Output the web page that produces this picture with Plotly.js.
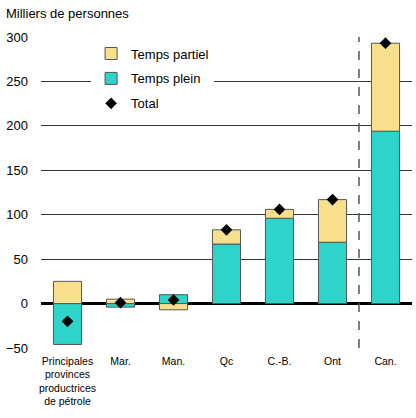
<!DOCTYPE html>
<html>
<head>
<meta charset="utf-8">
<script src="https://cdn.plot.ly/plotly-3.0.1.min.js"></script>
<style>
  body { margin: 0; background: #fff; }
  #chart { width: 416px; height: 418px; }
</style>
</head>
<body>
<div id="chart"></div>
<script>
const regions = [
  "Principales<br>provinces<br>productrices<br>de pétrole",
  "Mar.", "Man.", "Qc", "C.-B.", "Ont", "Can."
];
const tempsPlein = [-46, -4, 10, 67, 96, 69, 194];
const tempsPartiel = [25, 5, -7, 16, 10, 48, 99];
const total = [-20, 1, 4, 83, 106, 117, 293];
const yTicks = [-50, 0, 50, 100, 150, 200, 250, 300];

const font = "Liberation Sans, Arial, sans-serif";
const barLine = { color: "#555", width: 1 };

const traces = [
  {
    type: "bar", name: "Temps plein", x: regions, y: tempsPlein,
    marker: { color: "#2ed3c9", line: barLine },
    legendrank: 2, legendgroup: "b"
  },
  {
    type: "bar", name: "Temps partiel", x: regions, y: tempsPartiel,
    marker: { color: "#f8df8e", line: barLine },
    legendrank: 1, legendgroup: "a"
  },
  {
    type: "scatter", mode: "markers", name: "Total", x: regions, y: total,
    marker: { symbol: "diamond", size: 9, color: "#000" },
    legendrank: 3, legendgroup: "c"
  }
];

const layout = {
  width: 416, height: 418,
  margin: { l: 41, r: 4, t: 37, b: 70 },
  paper_bgcolor: "#fff", plot_bgcolor: "#fff",
  font: { family: font, size: 13, color: "#000" },
  barmode: "relative",
  bargap: 0.47,
  showlegend: true,
  legend: {
    x: 0.135, y: 0.995, xanchor: "left", yanchor: "top",
    bgcolor: "#fff", traceorder: "grouped", tracegroupgap: 5,
    font: { family: font, size: 13 }, itemwidth: 30
  },
  xaxis: {
    type: "category", showgrid: false, ticks: "", showline: false,
    tickfont: { family: font, size: 10.5 }, tickangle: 0,
    ticklabelstandoff: 5
  },
  yaxis: {
    range: [-50, 300], tickvals: yTicks, ticks: "",
    ticklabelstandoff: 12,
    showgrid: true, gridcolor: "#333", gridwidth: 1,
    zeroline: true, zerolinecolor: "#000", zerolinewidth: 2.5,
    showline: false, tickfont: { family: font, size: 13 }
  },
  annotations: [
    {
      text: "Milliers de personnes", xref: "paper", yref: "paper",
      x: -0.1, y: 1.074, xanchor: "left", yanchor: "middle",
      showarrow: false, font: { family: font, size: 13 }
    }
  ],
  shapes: [
    {
      type: "line", xref: "x", yref: "y", x0: 5.5, x1: 5.5, y0: -50, y1: 300,
      line: { color: "#555", width: 1.5, dash: "dash" }
    }
  ]
};

Plotly.newPlot("chart", traces, layout, { displayModeBar: false, staticPlot: true });
</script>
</body>
</html>
